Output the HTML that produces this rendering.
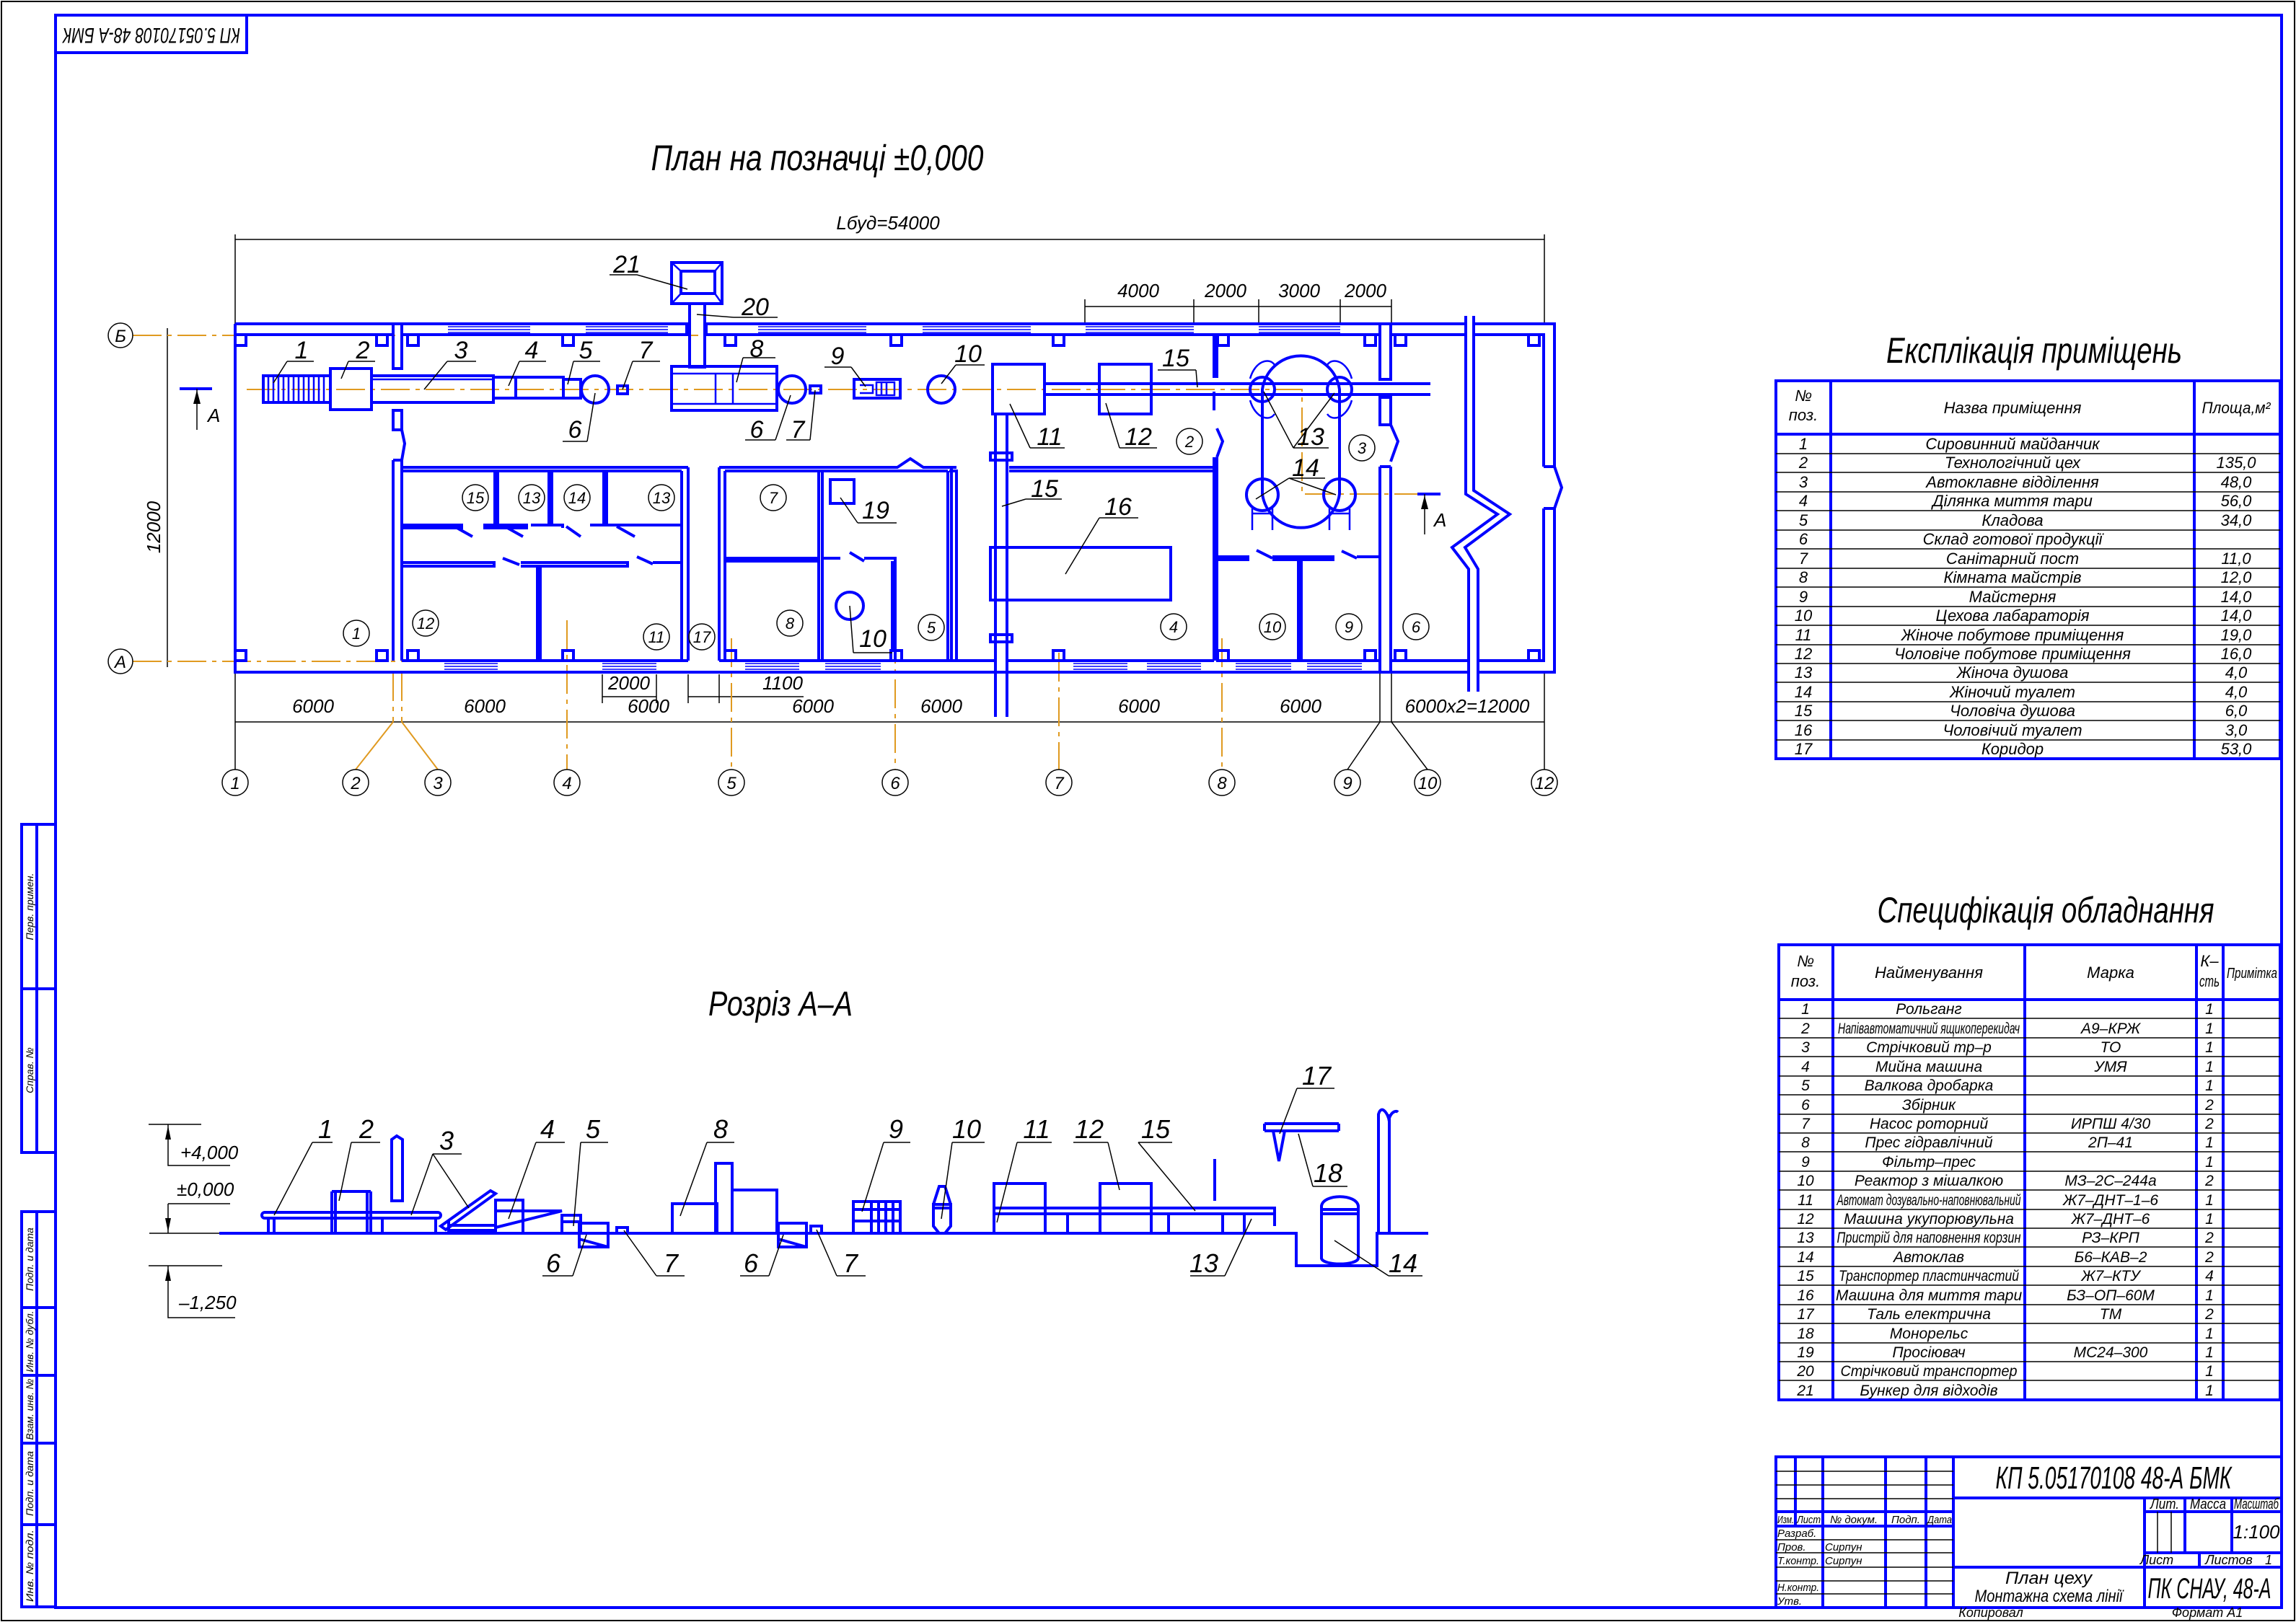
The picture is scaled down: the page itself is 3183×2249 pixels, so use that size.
<!DOCTYPE html>
<html><head><meta charset="utf-8"><style>
html,body{margin:0;padding:0;background:#fff;}
svg{display:block;}
text{font-family:"Liberation Sans Narrow","Liberation Sans","DejaVu Sans",sans-serif;font-style:italic;fill:#000;}
.b{stroke:#0000ff;stroke-width:4;fill:none;}
.bt{stroke:#0000ff;stroke-width:2.5;fill:none;}
.k{stroke:#000;stroke-width:1.5;fill:none;}
.o{stroke:#e09a20;stroke-width:2;fill:none;stroke-dasharray:40 8 6 8;}
.w{stroke:#0000ff;stroke-width:1.5;}
</style></head><body>
<svg width="3183" height="2249" viewBox="0 0 3183 2249" xmlns="http://www.w3.org/2000/svg">
<rect x="2" y="2" width="3179" height="2245" fill="none" stroke="#000" stroke-width="2"/>
<rect x="77" y="21" width="3086" height="2208" class="b" stroke-width="5"/>
<rect x="77" y="21" width="265" height="52" class="b"/>
<text x="210" y="47" font-size="30" text-anchor="middle" dominant-baseline="middle" textLength="246" lengthAdjust="spacingAndGlyphs" transform="rotate(180 210 47)">КП 5.05170108 48-А БМК</text>
<g class="b">
<rect x="30" y="1143" width="47" height="455"/><line x1="51" y1="1143" x2="51" y2="1598"/><line x1="30" y1="1371" x2="77" y2="1371"/>
<rect x="30" y="1680" width="47" height="548"/><line x1="51" y1="1680" x2="51" y2="2228"/>
<line x1="30" y1="1813" x2="77" y2="1813"/><line x1="30" y1="1907" x2="77" y2="1907"/><line x1="30" y1="2001" x2="77" y2="2001"/><line x1="30" y1="2114" x2="77" y2="2114"/>
</g>
<g font-size="14">
<text transform="translate(46 1257) rotate(-90)" text-anchor="middle">Перв. примен.</text>
<text transform="translate(46 1484) rotate(-90)" text-anchor="middle">Справ. №</text>
<text transform="translate(46 1746) rotate(-90)" text-anchor="middle">Подп. и дата</text>
<text transform="translate(46 1860) rotate(-90)" text-anchor="middle" textLength="85" lengthAdjust="spacingAndGlyphs">Инв. № дубл.</text>
<text transform="translate(46 1954) rotate(-90)" text-anchor="middle" textLength="85" lengthAdjust="spacingAndGlyphs">Взам. инв. №</text>
<text transform="translate(46 2057) rotate(-90)" text-anchor="middle" textLength="90" lengthAdjust="spacingAndGlyphs">Подп. и дата</text>
<text transform="translate(46 2171) rotate(-90)" text-anchor="middle" textLength="100" lengthAdjust="spacingAndGlyphs">Инв. № подл.</text>
</g>

<text x="1133" y="236" font-size="50" text-anchor="middle" textLength="461" lengthAdjust="spacingAndGlyphs">План на позначці ±0,000</text>
<text x="1082" y="1408" font-size="48" text-anchor="middle" textLength="200" lengthAdjust="spacingAndGlyphs">Розріз А–А</text>
<text x="2820" y="503" font-size="50" text-anchor="middle" textLength="410" lengthAdjust="spacingAndGlyphs">Експлікація приміщень</text>
<text x="2836" y="1279" font-size="50" text-anchor="middle" textLength="467" lengthAdjust="spacingAndGlyphs">Специфікація обладнання</text>

<g class="k">
<line x1="326" y1="332" x2="2141" y2="332"/><line x1="326" y1="325" x2="326" y2="449"/><line x1="2141" y1="325" x2="2141" y2="449"/>
<line x1="1504" y1="425" x2="1929" y2="425"/>
<line x1="1504" y1="415" x2="1504" y2="449"/><line x1="1655" y1="415" x2="1655" y2="449"/><line x1="1745" y1="415" x2="1745" y2="449"/><line x1="1858" y1="415" x2="1858" y2="449"/><line x1="1929" y1="415" x2="1929" y2="449"/>
<line x1="232" y1="455" x2="232" y2="925"/>
<line x1="326" y1="1001" x2="2141" y2="1001"/>
<line x1="835" y1="966" x2="910" y2="966"/><line x1="835" y1="935" x2="835" y2="975"/><line x1="910" y1="935" x2="910" y2="975"/>
<line x1="954" y1="966" x2="1114" y2="966"/><line x1="954" y1="935" x2="954" y2="975"/><line x1="997" y1="935" x2="997" y2="975"/>
<line x1="1913" y1="932" x2="1913" y2="1001"/><line x1="1929" y1="932" x2="1929" y2="1001"/>
<line x1="1913" y1="1001" x2="1868" y2="1067"/><line x1="1929" y1="1001" x2="1979" y2="1067"/>
<line x1="2141" y1="932" x2="2141" y2="1067"/><line x1="326" y1="932" x2="326" y2="1067"/>
<line x1="249" y1="539" x2="294" y2="539" stroke="#0000ff" stroke-width="4"/>
<line x1="273" y1="539" x2="273" y2="596"/>
<line x1="1965" y1="685" x2="1997" y2="685" stroke="#0000ff" stroke-width="4"/>
<line x1="1975" y1="685" x2="1975" y2="741"/>
</g>
<polygon points="273,541 268,560 278,560" fill="#000"/>
<polygon points="1975,687 1970,706 1980,706" fill="#000"/>
<text x="288" y="585" font-size="26">А</text>
<text x="1988" y="730" font-size="26">А</text>
<g font-size="26" text-anchor="middle">
<text x="1231" y="318">Lбуд=54000</text>
<text x="1578" y="412">4000</text><text x="1699" y="412">2000</text><text x="1801" y="412">3000</text><text x="1893" y="412">2000</text>
<text transform="translate(222 731) rotate(-90)">12000</text>
<text x="434" y="988">6000</text><text x="672" y="988">6000</text><text x="899" y="988">6000</text><text x="1127" y="988">6000</text><text x="1305" y="988">6000</text><text x="1579" y="988">6000</text><text x="1803" y="988">6000</text><text x="2034" y="988">6000х2=12000</text>
<text x="872" y="956">2000</text><text x="1085" y="956">1100</text>
</g>
<g class="o">
<line x1="184" y1="465" x2="1100" y2="465"/>
<line x1="184" y1="917" x2="720" y2="917"/>
<path d="M342,540 L1805,540 L1805,685 L1965,685"/>
<line x1="545" y1="932" x2="545" y2="1001"/><line x1="557" y1="932" x2="557" y2="1001"/>
<line x1="545" y1="1001" x2="493" y2="1067" stroke-dasharray="none"/><line x1="557" y1="1001" x2="607" y2="1067" stroke-dasharray="none"/>
<line x1="786" y1="860" x2="786" y2="1067"/><line x1="1014" y1="885" x2="1014" y2="1067"/><line x1="1241" y1="880" x2="1241" y2="1067"/>
<line x1="1468" y1="905" x2="1468" y2="1067"/><line x1="1694" y1="885" x2="1694" y2="1067"/>
</g>
<g class="k" stroke-width="1.2">
<circle cx="167" cy="465" r="17"/><circle cx="167" cy="917" r="17"/>
<circle cx="326" cy="1085" r="18"/><circle cx="493" cy="1085" r="18"/><circle cx="607" cy="1085" r="18"/><circle cx="786" cy="1085" r="18"/><circle cx="1014" cy="1085" r="18"/><circle cx="1241" cy="1085" r="18"/><circle cx="1468" cy="1085" r="18"/><circle cx="1694" cy="1085" r="18"/><circle cx="1868" cy="1085" r="18"/><circle cx="1979" cy="1085" r="18"/><circle cx="2141" cy="1085" r="18"/>
</g>
<g font-size="24" text-anchor="middle">
<text x="167" y="474">Б</text><text x="167" y="926">А</text>
<text x="326" y="1094">1</text><text x="493" y="1094">2</text><text x="607" y="1094">3</text><text x="786" y="1094">4</text><text x="1014" y="1094">5</text><text x="1241" y="1094">6</text><text x="1468" y="1094">7</text><text x="1694" y="1094">8</text><text x="1868" y="1094">9</text><text x="1979" y="1094">10</text><text x="2141" y="1094">12</text>
</g>
<g class="b">
<path d="M326,449 L952,449 L952,464 L557,464 M545,464 L326,464"/>
<path d="M979,449 L2032,449 M2043,449 L2155,449 L2155,647 M2155,705 L2155,932 L2049,932 M2036,932 L326,932 L326,449"/>
<path d="M979,464 L979,449 M979,464 L1913,464 M1928,464 L2032,464 M2043,464 L2140,464 L2140,647 M2140,705 L2140,916 L2049,916 M2036,916 L1928,916 M1913,916 L1687,916 M1683,916 L1396,916 M1380,916 L997,916 M954,916 L557,916"/>
<path d="M2140,647 L2155,647 L2165,676 L2155,705 L2140,705"/>
<path d="M2032,438 L2032,685 L2076,713 L2013,759 L2036,789 L2036,959"/>
<path d="M2043,438 L2043,680 L2093,713 L2031,759 L2049,789 L2049,959"/>
<rect x="1913" y="449" width="15" height="77"/><rect x="1913" y="551" width="15" height="38"/><path d="M1928,589 L1938,612 L1928,640 M1913,647 L1913,932 M1928,647 L1928,932 M1913,647 L1928,647"/>
<rect x="545" y="449" width="12" height="62"/><rect x="545" y="569" width="12" height="27"/>
<path d="M545,638 L545,916 M557,638 L557,916 M545,638 L557,638 M557,596 L561,615 L557,638"/>
<path d="M557,648 L954,648 M557,653 L945,653 M945,653 L945,916 M954,648 L954,916"/>
<path d="M686,653 L686,727 M690,653 L690,727 M761,653 L761,727 M765,653 L765,727 M837,653 L837,727 M841,653 L841,727"/>
<path d="M557,728 L640,728 L640,732 L557,732 M670,728 L730,728 L730,732 L670,732 M736,728 L780,728 L780,732 M818,728 L945,728 M700,730 L725,744 M785,730 L805,744 M630,730 L655,744 M855,730 L880,744"/>
<path d="M557,780 L685,780 L685,785 L557,785 M722,780 L870,780 L870,785 L722,785 M905,780 L945,780 M697,774 L720,783 M883,772 L905,782"/>
<path d="M745,785 L745,916 M749,785 L749,916"/>
<path d="M997,648 L1244,648 L1262,636 L1280,648 L1326,648 M1005,653 L1314,653 M997,648 L997,916 M1005,653 L1005,916 M1314,653 L1314,916 M1319,648 L1319,916"/>
<path d="M1135,653 L1135,916 M1140,653 L1140,916 M1005,774 L1135,774 M1005,778 L1135,778 M1140,774 L1165,774 M1178,766 L1198,778 M1198,774 L1241,774 L1241,916 M1237,778 L1237,900"/>
<path d="M1316,653 L1326,653 L1326,916 M1399,648 L1683,648 M1399,653 L1683,653 M1683,463 L1683,524 M1687,463 L1687,524 M1683,543 L1683,569 M1683,634 L1683,916 M1687,634 L1687,916 M1687,594 L1695,612 L1687,634"/>
<path d="M1687,772 L1730,772 L1730,776 L1687,776 M1764,772 L1848,772 L1848,776 L1764,776 M1881,772 L1913,772 M1742,763 L1764,774 M1860,764 L1881,774"/>
<path d="M1800,776 L1800,916 M1804,776 L1804,916"/>
<path d="M1380,574 L1380,994 M1396,574 L1396,994"/>
<rect x="1373" y="628" width="30" height="10"/><rect x="1373" y="880" width="30" height="10"/>
</g>
<g class="w">
<path d="M621,453 L735,453 M621,457 L735,457 M621,461 L735,461 M812,453 L926,453 M812,457 L926,457 M812,461 L926,461"/>
<path d="M1051,453 L1201,453 M1051,457 L1201,457 M1051,461 L1201,461 M1279,453 L1429,453 M1279,457 L1429,457 M1279,461 L1429,461"/>
<path d="M1505,453 L1655,453 M1505,457 L1655,457 M1505,461 L1655,461 M1745,453 L1858,453 M1745,457 L1858,457 M1745,461 L1858,461"/>
<path d="M616,920 L690,920 M616,924 L690,924 M616,928 L690,928 M835,920 L910,920 M835,924 L910,924 M835,928 L910,928"/>
<path d="M1033,920 L1108,920 M1033,924 L1108,924 M1033,928 L1108,928 M1144,920 L1221,920 M1144,924 L1221,924 M1144,928 L1221,928"/>
<path d="M1488,920 L1563,920 M1488,924 L1563,924 M1488,928 L1563,928 M1590,920 L1665,920 M1590,924 L1665,924 M1590,928 L1665,928 M1713,920 L1790,920 M1713,924 L1790,924 M1713,928 L1790,928 M1812,920 L1888,920 M1812,924 L1888,924 M1812,928 L1888,928"/>
</g>
<g class="b" stroke-width="3">
<rect x="326" y="464" width="15" height="15"/><rect x="522" y="464" width="15" height="15"/><rect x="565" y="464" width="15" height="15"/><rect x="780" y="464" width="15" height="15"/><rect x="1005" y="464" width="15" height="15"/><rect x="1235" y="464" width="15" height="15"/><rect x="1460" y="464" width="15" height="15"/><rect x="1688" y="464" width="15" height="15"/><rect x="1892" y="464" width="15" height="15"/><rect x="1934" y="464" width="15" height="15"/><rect x="2119" y="464" width="15" height="15"/>
<rect x="326" y="902" width="15" height="14"/><rect x="522" y="902" width="15" height="14"/><rect x="565" y="902" width="15" height="14"/><rect x="780" y="902" width="15" height="14"/><rect x="1005" y="902" width="15" height="14"/><rect x="1235" y="902" width="15" height="14"/><rect x="1460" y="902" width="15" height="14"/><rect x="1688" y="902" width="15" height="14"/><rect x="1892" y="902" width="15" height="14"/><rect x="1934" y="902" width="15" height="14"/><rect x="2119" y="902" width="15" height="14"/>
</g>
<g class="b">
<rect x="365" y="521" width="93" height="37"/>
<rect x="458" y="511" width="57" height="57"/>
<rect x="515" y="521" width="169" height="37"/>
<rect x="684" y="523" width="31" height="29"/><rect x="715" y="523" width="66" height="29"/>
<rect x="781" y="526" width="24" height="26"/>
<circle cx="825" cy="540" r="19"/>
<rect x="856" y="535" width="14" height="11"/>
<rect x="931" y="364" width="70" height="57"/><rect x="944" y="376" width="47" height="31"/>
<rect x="956" y="421" width="21" height="88"/>
<rect x="931" y="508" width="146" height="61"/>
<circle cx="1098" cy="540" r="19"/>
<rect x="1123" y="535" width="15" height="10"/>
<rect x="1184" y="526" width="64" height="26"/>
<circle cx="1305" cy="540" r="19"/>
<rect x="1376" y="505" width="72" height="69"/>
<rect x="1524" y="505" width="72" height="69"/>
<path d="M1448,532 L1983,532 M1448,547 L1983,547"/>
<rect x="1373" y="759" width="250" height="73"/>
<rect x="1151" y="665" width="33" height="33"/>
<circle cx="1178" cy="840" r="19"/>
<path d="M1750,540 A54,54 0 0 1 1857,540 L1857,685 A54,54 0 0 1 1750,685 Z"/>
<circle cx="1750" cy="540" r="17"/><circle cx="1857" cy="540" r="17"/>
<circle cx="1750" cy="686" r="22"/><circle cx="1857" cy="686" r="22"/>
</g>
<g class="bt">
<path d="M931,518 L1077,518 M931,560 L1077,560 M992,518 L992,560 M1016,518 L1016,560"/>
<path d="M944,376 L931,364 M991,376 L1001,364 M944,407 L931,421 M991,407 L1001,421"/>
<path d="M372,521 L372,558 M379,521 L379,558 M386,521 L386,558 M393,521 L393,558 M400,521 L400,558 M407,521 L407,558 M414,521 L414,558 M421,521 L421,558 M428,521 L428,558 M435,521 L435,558 M442,521 L442,558 M449,521 L449,558"/>
<path d="M1215,530 L1240,530 L1240,548 L1215,548 Z M1222,530 L1222,548 M1229,530 L1229,548 M1192,534 L1210,534 L1210,545 L1192,545"/>
<path d="M515,526 L684,526"/>
<path d="M1733,525 C1740,500 1760,495 1767,506 M1733,555 C1740,580 1760,585 1767,574 M1874,525 C1867,500 1847,495 1840,506 M1874,555 C1867,580 1847,585 1840,574"/>
<path d="M1736,705 L1736,735 M1764,705 L1764,735 M1843,705 L1843,735 M1871,705 L1871,735 M1736,712 L1764,712 M1843,712 L1871,712"/>
</g>
<g class="k" stroke-width="1.2">
<path d="M398,501 L435,501 M398,501 L379,531"/>
<path d="M483,501 L520,501 M483,501 L473,525"/>
<path d="M620,501 L660,501 M620,501 L588,540"/>
<path d="M720,501 L757,501 M720,501 L705,535"/>
<path d="M795,501 L832,501 M795,501 L787,533"/>
<path d="M877,501 L915,501 M877,501 L863,540"/>
<path d="M780,612 L814,612 M814,612 L825,545"/>
<path d="M845,381 L883,381 M883,381 L953,401"/>
<path d="M1017,440 L1078,440 M1017,440 L966,436"/>
<path d="M1030,496 L1075,496 M1030,496 L1021,530"/>
<path d="M1033,610 L1075,610 M1075,610 L1096,548"/>
<path d="M1090,610 L1123,610 M1123,610 L1130,541"/>
<path d="M1143,509 L1180,509 M1180,509 L1200,536"/>
<path d="M1325,506 L1365,506 M1325,506 L1305,532"/>
<path d="M1428,621 L1476,621 M1428,621 L1400,560"/>
<path d="M1552,621 L1604,621 M1552,621 L1533,559"/>
<path d="M1605,513 L1658,513 M1658,513 L1660,537"/>
<path d="M1793,621 L1842,621 M1793,621 L1752,543 M1793,621 L1850,545"/>
<path d="M1787,663 L1837,663 M1787,663 L1741,692 M1787,663 L1852,686"/>
<path d="M1422,692 L1472,692 M1422,692 L1389,702"/>
<path d="M1524,718 L1578,718 M1524,718 L1477,796"/>
<path d="M1189,725 L1243,725 M1189,725 L1165,690"/>
<path d="M1183,905 L1237,905 M1183,905 L1178,840"/>
</g>
<g font-size="34" text-anchor="middle">
<text x="418" y="497">1</text><text x="503" y="497">2</text><text x="639" y="497">3</text><text x="737" y="497">4</text><text x="812" y="497">5</text><text x="895" y="497">7</text>
<text x="797" y="607">6</text><text x="1049" y="495">8</text><text x="1161" y="505">9</text><text x="1342" y="502">10</text>
<text x="1049" y="607">6</text><text x="1106" y="607">7</text><text x="869" y="378">21</text><text x="1047" y="437">20</text>
<text x="1214" y="719">19</text><text x="1210" y="897">10</text>
<text x="1455" y="617">11</text><text x="1578" y="617">12</text><text x="1630" y="508">15</text>
<text x="1817" y="617">13</text><text x="1810" y="660">14</text><text x="1448" y="689">15</text><text x="1550" y="714">16</text>
</g>
<g class="k" stroke-width="1.2">
<circle cx="659" cy="690" r="18"/><circle cx="737" cy="690" r="18"/><circle cx="800" cy="690" r="18"/><circle cx="917" cy="690" r="18"/>
<circle cx="494" cy="878" r="18"/><circle cx="590" cy="864" r="18"/><circle cx="910" cy="883" r="18"/><circle cx="973" cy="883" r="18"/>
<circle cx="1072" cy="690" r="18"/><circle cx="1095" cy="864" r="18"/><circle cx="1291" cy="870" r="18"/>
<circle cx="1649" cy="612" r="18"/><circle cx="1888" cy="621" r="18"/><circle cx="1627" cy="869" r="18"/><circle cx="1764" cy="869" r="18"/><circle cx="1870" cy="869" r="18"/><circle cx="1963" cy="869" r="18"/>
</g>
<g font-size="22" text-anchor="middle">
<text x="659" y="698">15</text><text x="737" y="698">13</text><text x="800" y="698">14</text><text x="917" y="698">13</text>
<text x="494" y="886">1</text><text x="590" y="872">12</text><text x="910" y="891">11</text><text x="973" y="891">17</text>
<text x="1072" y="698">7</text><text x="1095" y="872">8</text><text x="1291" y="878">5</text>
<text x="1649" y="620">2</text><text x="1888" y="629">3</text><text x="1627" y="877">4</text><text x="1764" y="877">10</text><text x="1870" y="877">9</text><text x="1963" y="877">6</text>
</g>

<!-- SECTION -->
<g class="k">
<path d="M206,1559 L279,1559 M233,1559 L233,1616 L319,1616"/>
<path d="M233,1669 L319,1669 M233,1669 L233,1710 M207,1710 L304,1710"/>
<path d="M206,1755 L308,1755 M233,1755 L233,1827 L326,1827"/>
</g>
<polygon points="233,1561 229,1580 237,1580" fill="#000"/>
<polygon points="233,1708 229,1689 237,1689" fill="#000"/>
<polygon points="233,1757 229,1776 237,1776" fill="#000"/>
<g font-size="26"><text x="250" y="1607">+4,000</text><text x="245" y="1658">±0,000</text><text x="248" y="1815">–1,250</text></g>
<g class="b">
<path d="M304,1710 L1797,1710 L1797,1755 L1909,1755 L1909,1710 L1980,1710"/>
<rect x="363" y="1681" width="248" height="8" rx="4"/>
<path d="M372,1689 L372,1710 M380,1689 L380,1710 M460,1652 L460,1710 M514,1652 L514,1710 M460,1652 L514,1652 M465,1652 L465,1710 M509,1652 L509,1710 M530,1689 L530,1710 M604,1689 L604,1710"/>
<path d="M543,1665 L543,1580 L550,1575 L558,1580 L558,1665 Z"/>
<path d="M611,1700 L680,1651 L687,1655 L618,1705 Z M622,1699 L687,1699 M622,1706 L687,1706 M622,1692 L622,1710"/>
<rect x="687" y="1664" width="38" height="46"/><path d="M687,1679 L779,1679 L687,1702"/>
<rect x="779" y="1685" width="26" height="25"/><path d="M779,1694 L805,1694"/>
<rect x="803" y="1696" width="40" height="33"/><path d="M803,1718 L843,1729"/>
<rect x="855" y="1702" width="15" height="8"/>
<rect x="932" y="1669" width="62" height="41"/><rect x="992" y="1613" width="23" height="97"/><rect x="1015" y="1650" width="62" height="60"/>
<rect x="1079" y="1696" width="39" height="33"/><path d="M1079,1718 L1118,1729"/>
<rect x="1124" y="1700" width="15" height="10"/>
<rect x="1183" y="1666" width="65" height="44"/><path d="M1183,1677 L1248,1677 M1183,1693 L1248,1693 M1208,1666 L1208,1710 M1218,1666 L1218,1710 M1228,1666 L1228,1710 M1238,1666 L1238,1710"/>
<path d="M1294,1670 L1302,1645 L1310,1645 L1318,1670 L1318,1700 L1310,1710 L1302,1710 L1294,1700 Z M1292,1670 L1320,1670 M1292,1675 L1320,1675"/>
<rect x="1378" y="1641" width="71" height="69"/><rect x="1525" y="1641" width="71" height="69"/>
<path d="M1378,1675 L1767,1675 L1767,1700 M1378,1683 L1767,1683 M1480,1683 L1480,1710 M1620,1683 L1620,1710 M1695,1683 L1695,1710 M1725,1683 L1725,1710"/>
<path d="M1684,1607 L1684,1665"/>
<path d="M1753,1558 L1856,1558 M1753,1568 L1856,1568 M1753,1558 L1753,1568 M1856,1558 L1856,1568 M1765,1568 L1773,1610 L1781,1568"/>
<path d="M1832,1672 C1835,1655 1880,1655 1883,1672 L1883,1745 C1880,1755 1835,1755 1832,1745 Z M1832,1677 L1883,1677 M1832,1683 L1883,1683"/>
<path d="M1911,1710 L1911,1545 C1915,1530 1925,1545 1926,1555 M1926,1545 L1926,1710 M1926,1550 C1930,1540 1936,1540 1938,1542"/>
</g>
<g class="k" stroke-width="1.2">
<path d="M433,1584 L461,1584 M433,1584 L380,1685"/>
<path d="M487,1584 L527,1584 M487,1584 L470,1665"/>
<path d="M600,1600 L640,1600 M600,1600 L570,1685 M600,1600 L650,1675"/>
<path d="M743,1584 L783,1584 M743,1584 L705,1690"/>
<path d="M805,1584 L843,1584 M805,1584 L795,1700"/>
<path d="M980,1584 L1018,1584 M980,1584 L943,1686"/>
<path d="M1225,1584 L1262,1584 M1225,1584 L1195,1680"/>
<path d="M1320,1584 L1365,1584 M1320,1584 L1305,1690"/>
<path d="M1410,1584 L1458,1584 M1410,1584 L1382,1695"/>
<path d="M1488,1584 L1536,1584 M1536,1584 L1552,1650"/>
<path d="M1578,1584 L1625,1584 M1578,1584 L1657,1679"/>
<path d="M1798,1509 L1850,1509 M1798,1509 L1774,1572"/>
<path d="M1820,1645 L1868,1645 M1820,1645 L1800,1572"/>
<path d="M752,1769 L794,1769 M794,1769 L813,1712"/>
<path d="M910,1769 L949,1769 M910,1769 L865,1706"/>
<path d="M1026,1769 L1066,1769 M1066,1769 L1086,1712"/>
<path d="M1160,1769 L1200,1769 M1160,1769 L1132,1705"/>
<path d="M1650,1769 L1698,1769 M1698,1769 L1735,1690"/>
<path d="M1925,1769 L1972,1769 M1925,1769 L1850,1720"/>
</g>
<g font-size="36" text-anchor="middle">
<text x="451" y="1578">1</text><text x="508" y="1578">2</text><text x="619" y="1594">3</text><text x="759" y="1578">4</text><text x="822" y="1578">5</text><text x="999" y="1578">8</text><text x="1242" y="1578">9</text><text x="1340" y="1578">10</text><text x="1437" y="1578">11</text><text x="1510" y="1578">12</text><text x="1602" y="1578">15</text>
<text x="1825" y="1504">17</text><text x="1841" y="1639">18</text>
<text x="767" y="1764">6</text><text x="930" y="1764">7</text><text x="1041" y="1764">6</text><text x="1179" y="1764">7</text><text x="1669" y="1764">13</text><text x="1945" y="1764">14</text>
</g>

<!-- Explication table -->
<g class="b">
<rect x="2462" y="528" width="699" height="524"/>
<line x1="2538" y1="528" x2="2538" y2="1052"/><line x1="3042" y1="528" x2="3042" y2="1052"/>
<line x1="2462" y1="602" x2="3161" y2="602"/>
</g>
<g class="k" stroke-width="2">
<path d="M2462,629 H3161 M2462,655 H3161 M2462,682 H3161 M2462,708 H3161 M2462,735 H3161 M2462,761 H3161 M2462,788 H3161 M2462,814 H3161 M2462,841 H3161 M2462,867 H3161 M2462,894 H3161 M2462,920 H3161 M2462,946 H3161 M2462,973 H3161 M2462,999 H3161 M2462,1026 H3161"/>
</g>
<g font-size="22" text-anchor="middle">
<text x="2500" y="556">№</text><text x="2500" y="583">поз.</text>
<text x="2790" y="573">Назва приміщення</text><text x="3100" y="573" textLength="95" lengthAdjust="spacingAndGlyphs">Площа,м²</text>
</g>
<g font-size="22" text-anchor="middle">
<text x="2500" y="623">1</text><text x="2790" y="623">Сировинний майданчик</text>
<text x="2500" y="649">2</text><text x="2790" y="649">Технологічний цех</text><text x="3100" y="649">135,0</text>
<text x="2500" y="676">3</text><text x="2790" y="676">Автоклавне відділення</text><text x="3100" y="676">48,0</text>
<text x="2500" y="702">4</text><text x="2790" y="702">Ділянка миття тари</text><text x="3100" y="702">56,0</text>
<text x="2500" y="729">5</text><text x="2790" y="729">Кладова</text><text x="3100" y="729">34,0</text>
<text x="2500" y="755">6</text><text x="2790" y="755">Склад готової продукції</text>
<text x="2500" y="782">7</text><text x="2790" y="782">Санітарний пост</text><text x="3100" y="782">11,0</text>
<text x="2500" y="808">8</text><text x="2790" y="808">Кімната майстрів</text><text x="3100" y="808">12,0</text>
<text x="2500" y="835">9</text><text x="2790" y="835">Майстерня</text><text x="3100" y="835">14,0</text>
<text x="2500" y="861">10</text><text x="2790" y="861">Цехова лабараторія</text><text x="3100" y="861">14,0</text>
<text x="2500" y="888">11</text><text x="2790" y="888">Жіноче побутове приміщення</text><text x="3100" y="888">19,0</text>
<text x="2500" y="914">12</text><text x="2790" y="914">Чоловіче побутове приміщення</text><text x="3100" y="914">16,0</text>
<text x="2500" y="940">13</text><text x="2790" y="940">Жіноча душова</text><text x="3100" y="940">4,0</text>
<text x="2500" y="967">14</text><text x="2790" y="967">Жіночий туалет</text><text x="3100" y="967">4,0</text>
<text x="2500" y="993">15</text><text x="2790" y="993">Чоловіча душова</text><text x="3100" y="993">6,0</text>
<text x="2500" y="1020">16</text><text x="2790" y="1020">Чоловічий туалет</text><text x="3100" y="1020">3,0</text>
<text x="2500" y="1046">17</text><text x="2790" y="1046">Коридор</text><text x="3100" y="1046">53,0</text>
</g>

<!-- Spec table -->
<g class="b">
<rect x="2466" y="1310" width="695" height="631"/>
<line x1="2541" y1="1310" x2="2541" y2="1941"/><line x1="2807" y1="1310" x2="2807" y2="1941"/><line x1="3045" y1="1310" x2="3045" y2="1941"/><line x1="3082" y1="1310" x2="3082" y2="1941"/>
<line x1="2466" y1="1386" x2="3161" y2="1386"/>
</g>
<g class="k" stroke-width="2">
<path d="M2466,1412 H3161 M2466,1439 H3161 M2466,1465 H3161 M2466,1492 H3161 M2466,1518 H3161 M2466,1545 H3161 M2466,1571 H3161 M2466,1597 H3161 M2466,1624 H3161 M2466,1650 H3161 M2466,1677 H3161 M2466,1703 H3161 M2466,1729 H3161 M2466,1756 H3161 M2466,1782 H3161 M2466,1809 H3161 M2466,1835 H3161 M2466,1862 H3161 M2466,1888 H3161 M2466,1914 H3161"/>
</g>
<g font-size="22" text-anchor="middle">
<text x="2503" y="1340">№</text><text x="2503" y="1368">поз.</text>
<text x="2674" y="1356">Найменування</text><text x="2926" y="1356">Марка</text>
<text x="3063" y="1340">К–</text><text x="3063" y="1368" textLength="28" lengthAdjust="spacingAndGlyphs">сть</text><text x="3122" y="1356" font-size="20" textLength="70" lengthAdjust="spacingAndGlyphs">Примітка</text>
</g>
<g font-size="21" text-anchor="middle">
<text x="2503" y="1406">1</text><text x="2674" y="1406">Рольганг</text><text x="3063" y="1406">1</text>
<text x="2503" y="1433">2</text><text x="2674" y="1433" textLength="252" lengthAdjust="spacingAndGlyphs">Напівавтоматичний ящикоперекидач</text><text x="2926" y="1433">А9–КРЖ</text><text x="3063" y="1433">1</text>
<text x="2503" y="1459">3</text><text x="2674" y="1459">Стрічковий тр–р</text><text x="2926" y="1459">ТО</text><text x="3063" y="1459">1</text>
<text x="2503" y="1486">4</text><text x="2674" y="1486">Мийна машина</text><text x="2926" y="1486">УМЯ</text><text x="3063" y="1486">1</text>
<text x="2503" y="1512">5</text><text x="2674" y="1512">Валкова дробарка</text><text x="3063" y="1512">1</text>
<text x="2503" y="1539">6</text><text x="2674" y="1539">Збірник</text><text x="3063" y="1539">2</text>
<text x="2503" y="1565">7</text><text x="2674" y="1565">Насос роторний</text><text x="2926" y="1565">ИРПШ 4/30</text><text x="3063" y="1565">2</text>
<text x="2503" y="1591">8</text><text x="2674" y="1591">Прес гідравлічний</text><text x="2926" y="1591">2П–41</text><text x="3063" y="1591">1</text>
<text x="2503" y="1618">9</text><text x="2674" y="1618">Фільтр–прес</text><text x="3063" y="1618">1</text>
<text x="2503" y="1644">10</text><text x="2674" y="1644">Реактор з мішалкою</text><text x="2926" y="1644">МЗ–2С–244а</text><text x="3063" y="1644">2</text>
<text x="2503" y="1671">11</text><text x="2674" y="1671" textLength="255" lengthAdjust="spacingAndGlyphs">Автомат дозувально-наповнювальний</text><text x="2926" y="1671">Ж7–ДНТ–1–6</text><text x="3063" y="1671">1</text>
<text x="2503" y="1697">12</text><text x="2674" y="1697">Машина укупорювульна</text><text x="2926" y="1697">Ж7–ДНТ–6</text><text x="3063" y="1697">1</text>
<text x="2503" y="1723">13</text><text x="2674" y="1723" textLength="255" lengthAdjust="spacingAndGlyphs">Пристрій для наповнення корзин</text><text x="2926" y="1723">РЗ–КРП</text><text x="3063" y="1723">2</text>
<text x="2503" y="1750">14</text><text x="2674" y="1750">Автоклав</text><text x="2926" y="1750">Б6–КАВ–2</text><text x="3063" y="1750">2</text>
<text x="2503" y="1776">15</text><text x="2674" y="1776" textLength="250" lengthAdjust="spacingAndGlyphs">Транспортер пластинчастий</text><text x="2926" y="1776">Ж7–КТУ</text><text x="3063" y="1776">4</text>
<text x="2503" y="1803">16</text><text x="2674" y="1803">Машина для миття тари</text><text x="2926" y="1803">БЗ–ОП–60М</text><text x="3063" y="1803">1</text>
<text x="2503" y="1829">17</text><text x="2674" y="1829">Таль електрична</text><text x="2926" y="1829">ТМ</text><text x="3063" y="1829">2</text>
<text x="2503" y="1856">18</text><text x="2674" y="1856">Монорельс</text><text x="3063" y="1856">1</text>
<text x="2503" y="1882">19</text><text x="2674" y="1882">Просіювач</text><text x="2926" y="1882">МС24–300</text><text x="3063" y="1882">1</text>
<text x="2503" y="1908">20</text><text x="2674" y="1908" textLength="245" lengthAdjust="spacingAndGlyphs">Стрічковий транспортер</text><text x="3063" y="1908">1</text>
<text x="2503" y="1935">21</text><text x="2674" y="1935">Бункер для відходів</text><text x="3063" y="1935">1</text>
</g>

<!-- Title block -->
<g class="b">
<rect x="2462" y="2020" width="701" height="209"/>
<line x1="2708" y1="2020" x2="2708" y2="2229"/>
<line x1="2489" y1="2020" x2="2489" y2="2116"/><line x1="2527" y1="2020" x2="2527" y2="2229"/><line x1="2614" y1="2020" x2="2614" y2="2229"/><line x1="2670" y1="2020" x2="2670" y2="2229"/>
<line x1="2462" y1="2096" x2="2708" y2="2096"/><line x1="2462" y1="2116" x2="2708" y2="2116"/>
<line x1="2708" y1="2077" x2="3163" y2="2077"/><line x1="2973" y1="2077" x2="2973" y2="2229"/>
<line x1="2708" y1="2173" x2="3163" y2="2173"/>
<line x1="2973" y1="2096" x2="3163" y2="2096"/><line x1="2973" y1="2153" x2="3163" y2="2153"/>
<line x1="3029" y1="2077" x2="3029" y2="2153"/><line x1="3094" y1="2077" x2="3094" y2="2153"/><line x1="3049" y1="2153" x2="3049" y2="2173"/>
</g>
<g class="k" stroke-width="2">
<path d="M2462,2040 H2708 M2462,2059 H2708 M2462,2078 H2708 M2462,2135 H2708 M2462,2153 H2708 M2462,2173 H2708 M2462,2192 H2708 M2462,2210 H2708 M2991,2096 V2153 M3010,2096 V2153"/>
</g>
<text x="2930" y="2064" font-size="44" text-anchor="middle" textLength="327" lengthAdjust="spacingAndGlyphs">КП 5.05170108 48-А БМК</text>
<g font-size="15">
<text x="2464" y="2112" textLength="23" lengthAdjust="spacingAndGlyphs">Изм.</text><text x="2491" y="2112" textLength="33" lengthAdjust="spacingAndGlyphs">Лист</text><text x="2570" y="2112" text-anchor="middle">№ докум.</text><text x="2642" y="2112" text-anchor="middle">Подп.</text><text x="2689" y="2112" text-anchor="middle" textLength="34" lengthAdjust="spacingAndGlyphs">Дата</text>
<text x="2464" y="2131">Разраб.</text><text x="2464" y="2150">Пров.</text><text x="2530" y="2150">Сирпун</text><text x="2464" y="2169" textLength="58" lengthAdjust="spacingAndGlyphs">Т.контр.</text><text x="2530" y="2169">Сирпун</text>
<text x="2464" y="2206" textLength="58" lengthAdjust="spacingAndGlyphs">Н.контр.</text><text x="2464" y="2225">Утв.</text>
</g>
<g font-size="20" text-anchor="middle">
<text x="3001" y="2092" textLength="40" lengthAdjust="spacingAndGlyphs">Лит.</text><text x="3061" y="2092" textLength="50" lengthAdjust="spacingAndGlyphs">Масса</text><text x="3128" y="2092" textLength="62" lengthAdjust="spacingAndGlyphs">Масштаб</text>
<text x="3128" y="2133" font-size="26">1:100</text>
<text x="2990" y="2169" font-size="18">Лист</text><text x="3090" y="2169" font-size="18">Листов</text><text x="3145" y="2169" font-size="18">1</text>
<text x="2840" y="2196" font-size="24" textLength="120" lengthAdjust="spacingAndGlyphs">План цеху</text><text x="2840" y="2221" font-size="24" textLength="205" lengthAdjust="spacingAndGlyphs">Монтажна схема лінії</text>
<text x="3063" y="2216" font-size="40" textLength="171" lengthAdjust="spacingAndGlyphs">ПК СНАУ, 48-А</text>
<text x="2760" y="2242" font-size="18">Копировал</text><text x="3060" y="2242" font-size="18">Формат  А1</text>
</g>
</svg>
</body></html>
